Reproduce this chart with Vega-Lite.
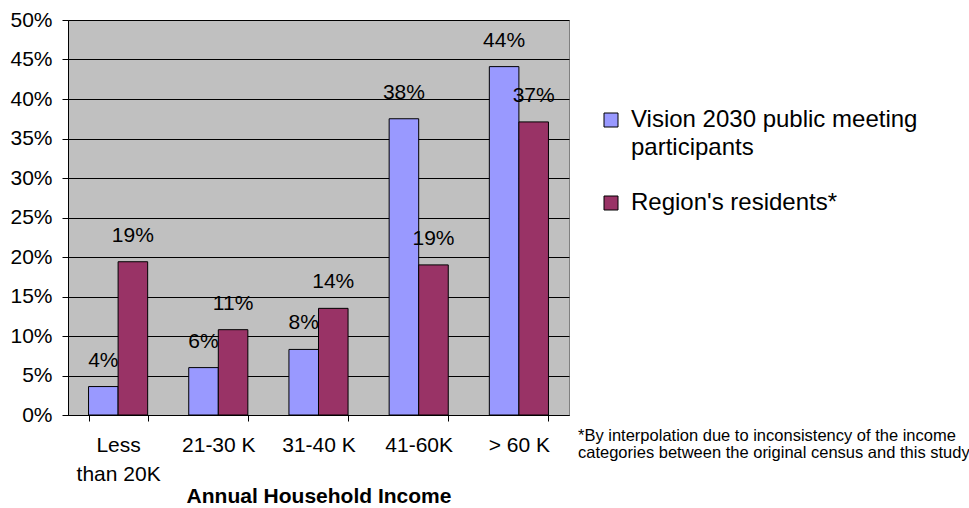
{
  "$schema": "https://vega.github.io/schema/vega-lite/v6.json",
  "autosize": {"type": "none"},
  "padding": {"left": 68, "top": 20, "right": 400, "bottom": 93},
  "width": 501,
  "height": 395,
  "background": "white",
  "title": {
    "text": ["*By interpolation due to inconsistency of the income", "categories between the original census and this study"],
    "orient": "bottom",
    "anchor": "end",
    "align": "left",
    "frame": "group",
    "baseline": "top",
    "dx": 9,
    "dy": -82,
    "fontSize": 16.5,
    "lineHeight": 17,
    "font": "Liberation Sans",
    "fontWeight": "normal",
    "color": "black"
  },
  "data": {
    "values": [
      {"income": "Less than 20K", "series": "Vision 2030 public meeting participants", "value": 0.036},
      {"income": "Less than 20K", "series": "Region's residents*", "value": 0.194},
      {"income": "21-30 K", "series": "Vision 2030 public meeting participants", "value": 0.060},
      {"income": "21-30 K", "series": "Region's residents*", "value": 0.108},
      {"income": "31-40 K", "series": "Vision 2030 public meeting participants", "value": 0.083},
      {"income": "31-40 K", "series": "Region's residents*", "value": 0.135},
      {"income": "41-60K", "series": "Vision 2030 public meeting participants", "value": 0.375},
      {"income": "41-60K", "series": "Region's residents*", "value": 0.19},
      {"income": "> 60 K", "series": "Vision 2030 public meeting participants", "value": 0.441},
      {"income": "> 60 K", "series": "Region's residents*", "value": 0.371}
    ]
  },
  "encoding": {
    "x": {
      "field": "income",
      "type": "nominal",
      "sort": null,
      "scale": {"paddingInner": 0.41, "paddingOuter": 0.205},
      "axis": {
        "title": "Annual Household Income",
        "titleFont": "Liberation Sans",
        "titleFontSize": 21,
        "titleFontWeight": "bold",
        "titleColor": "black",
        "titlePadding": 1,
        "labelAngle": 0,
        "labelFont": "Liberation Sans",
        "labelFontSize": 21,
        "labelColor": "black",
        "labelPadding": 13,
        "labelLineHeight": 29,
        "labelExpr": "datum.value == 'Less than 20K' ? ['Less', 'than 20K'] : datum.value",
        "tickBand": "extent",
        "tickColor": "black",
        "tickSize": 6,
        "domainColor": "black",
        "grid": false
      }
    },
    "xOffset": {
      "field": "series",
      "type": "nominal",
      "sort": ["Vision 2030 public meeting participants", "Region's residents*"],
      "scale": {"paddingInner": 0, "paddingOuter": 0}
    },
    "y": {
      "field": "value",
      "type": "quantitative",
      "scale": {"domain": [0, 0.5], "nice": false},
      "axis": {
        "title": null,
        "format": ".0%",
        "values": [0, 0.05, 0.1, 0.15, 0.2, 0.25, 0.3, 0.35, 0.4, 0.45, 0.5],
        "labelFont": "Liberation Sans",
        "labelFontSize": 21,
        "labelColor": "black",
        "labelPadding": 10,
        "tickColor": "black",
        "tickSize": 6,
        "domainColor": "black",
        "gridColor": "black",
        "gridOpacity": 1,
        "gridWidth": 1
      }
    }
  },
  "layer": [
    {
      "mark": {"type": "bar", "stroke": "black", "strokeWidth": 1},
      "encoding": {
        "color": {
          "field": "series",
          "type": "nominal",
          "sort": ["Vision 2030 public meeting participants", "Region's residents*"],
          "scale": {"range": ["#9999FF", "#993366"]},
          "legend": {
            "title": null,
            "orient": "none",
            "legendX": 531,
            "legendY": 88,
            "symbolType": "square",
            "symbolSize": 196,
            "symbolStrokeColor": "black",
            "symbolStrokeWidth": 1,
            "symbolOpacity": 1,
            "labelFont": "Liberation Sans",
            "labelFontSize": 24,
            "labelColor": "black",
            "labelLimit": 400,
            "labelOffset": 8,
            "labelExpr": "datum.value == 'Vision 2030 public meeting participants' ? ['Vision 2030 public meeting', 'participants'] : datum.value",
            "rowPadding": 31,
            "encode": {"labels": {"update": {"lineHeight": {"value": 28}}}}
          }
        }
      }
    },
    {
      "mark": {"type": "text", "dy": -26, "baseline": "middle", "font": "Liberation Sans", "fontSize": 21, "color": "black"},
      "encoding": {
        "text": {"field": "value", "type": "quantitative", "format": ".0%"}
      }
    }
  ],
  "config": {
    "view": {"fill": "#C0C0C0", "stroke": "#808080", "strokeWidth": 1}
  }
}
